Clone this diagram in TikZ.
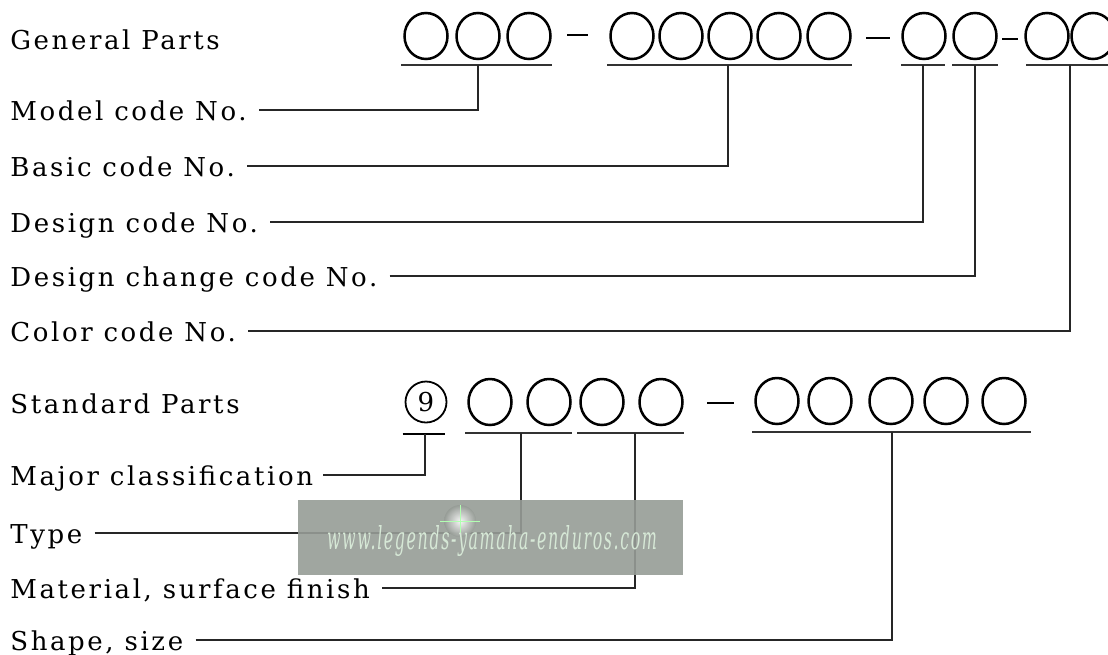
\documentclass[tikz,border=0pt]{standalone}
\usepackage{fontspec}
\setmainfont{DejaVu Serif}[LetterSpace=10]
\usepackage{graphicx}
\usetikzlibrary{shapes.geometric}
\definecolor{wmgray}{RGB}{150,156,150}
\definecolor{wmtext}{RGB}{214,232,214}

\begin{document}
\begin{tikzpicture}[x=0.5pt,y=-0.5pt,
digitnode/.style={ellipse, draw=black, line width=1.25pt, minimum width=21.5pt, minimum height=23pt, inner sep=0pt},
ninenode/.style={circle, draw=black, line width=0.9pt, minimum size=20.5pt, inner sep=0pt, font=\fontsize{13}{13}\selectfont},
labelnode/.style={anchor=west, inner xsep=0pt, text height=13pt, text depth=3pt, font=\fontsize{13}{15}\selectfont},
barline/.style={line width=0.8pt, draw=black!80},
leadline/.style={line width=0.6pt, draw=black!85},
dashline/.style={line width=1.1pt, draw=black},
]
\useasboundingbox (0,0) rectangle (1108,654);
%Text
\node[labelnode] (general)  at (10,39)  {General Parts};
\node[labelnode] (model)    at (10,110) {Model code No.};
\node[labelnode] (basic)    at (10,166) {Basic code No.};
\node[labelnode] (design)   at (10,222) {Design code No.};
\node[labelnode] (change)   at (10,276) {Design change code No.};
\node[labelnode] (color)    at (10,331) {Color code No.};
\node[labelnode] (standard) at (10,403) {Standard Parts};
\node[labelnode] (major)    at (10,475) {Major classification};
\node[labelnode] (type)     at (10,533) {Type};
\node[labelnode] (material) at (10,588) {Material, surface finish};
\node[labelnode] (shape)    at (10,640) {Shape, size};
%Nodes (general parts)
\foreach \x [count=\i] in {426,478,529}
  \node[digitnode] (a\i) at (\x,36) {};
\foreach \x [count=\i] in {632,681,730,779,829}
  \node[digitnode] (b\i) at (\x,36) {};
\foreach \x [count=\i] in {924,975}
  \node[digitnode] (c\i) at (\x,36) {};
\foreach \x [count=\i] in {1047,1093}
  \node[digitnode] (d\i) at (\x,36) {};
%Nodes (standard parts)
\node[ninenode] (nine) at (426,402) {9};
\foreach \x [count=\i] in {490,549,602,661}
  \node[digitnode] (e\i) at (\x,402) {};
\foreach \x [count=\i] in {777,830,891,946,1004}
  \node[digitnode] (f\i) at (\x,401) {};
%Dashes
\draw[dashline] (567,35) -- (588,35);
\draw[dashline] (866,38) -- (890,38);
\draw[dashline] (1002,39) -- (1018,39);
\draw[dashline] (707,403) -- (734,403);
%Taps
\coordinate (tapA) at (478,65);
\coordinate (tapB) at (728,65);
\coordinate (tapC) at (923,65);
\coordinate (tapD) at (975,65);
\coordinate (tapE) at (1070,65);
\coordinate (tapN) at (425,434);
\coordinate (tapT) at (521,433);
\coordinate (tapM) at (635,433);
\coordinate (tapS) at (892,432);
%Underlines
\draw[barline] ([xshift=-1pt]a1.west |- tapA) -- (a3.east |- tapA);
\draw[barline] ([xshift=-1pt]b1.west |- tapB) -- (b5.east |- tapB);
\draw[barline] (c1.west |- tapC) -- ([xshift=-1pt]c1.east |- tapC);
\draw[barline] (c2.west |- tapD) -- (c2.east |- tapD);
\draw[barline] ([xshift=1pt]d1.west |- tapE) -- (1110,65);
\draw[line width=1.3pt] ([xshift=-1pt]nine.west |- tapN) -- ([xshift=-1pt]nine.east |- tapN);
\draw[barline] ([xshift=-1pt]e1.west |- tapT) -- (e2.east |- tapT);
\draw[barline] ([xshift=-1pt]e3.west |- tapM) -- (e4.east |- tapM);
\draw[barline] ([xshift=-1pt]f1.west |- tapS) -- ([xshift=2pt]f5.east |- tapS);
%Lines
\draw[leadline] ([xshift=6pt]model.east) -| (tapA);
\draw[leadline] ([xshift=6pt]basic.east) -| (tapB);
\draw[leadline] ([xshift=6pt]design.east) -| (tapC);
\draw[leadline] ([xshift=6pt]change.east) -| (tapD);
\draw[leadline] ([xshift=6pt]color.east) -| (tapE);
\draw[leadline, line width=0.9pt] ([xshift=5pt]major.east) -| (tapN);
\draw[leadline] ([xshift=6pt]type.east) -| (tapT);
\draw[leadline] ([xshift=6pt]material.east) -| (tapM);
\draw[leadline] ([xshift=6pt]shape.east) -| (tapS);
%Watermark
\fill[wmgray, fill opacity=0.9] (298,500) rectangle (683,575);
\shade[inner color=white, outer color=wmgray, opacity=0.9] (460,521) circle (16);
\draw[white!70!green, line width=0.4pt] (440,521) -- (480,521) (460,505) -- (460,537);
\node[text=wmtext] (mark) at (492,541)
  {\resizebox{165pt}{12pt}{\itshape www.legends-yamaha-enduros.com}};
\end{tikzpicture}
\end{document}
